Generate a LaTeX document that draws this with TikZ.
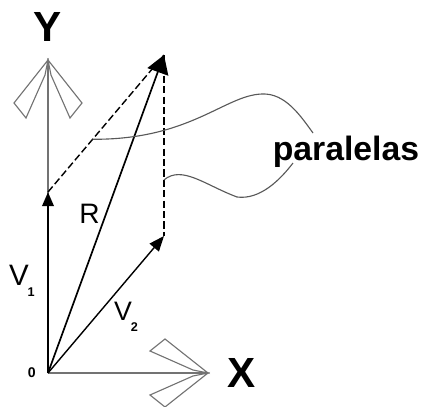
\documentclass[tikz,border=0pt]{standalone}
\usepackage{fontspec}
\setsansfont{Liberation Sans}
\usetikzlibrary{arrows.meta,positioning,calc}
\definecolor{axisgray}{gray}{0.45}
\definecolor{curvegray}{gray}{0.35}
\newcommand{\vsub}[3][0.3mm]{#2\kern-#1\raisebox{-2.6mm}{\fontsize{9}{9}\selectfont\bfseries #3}}

\tikzset{
  wing/.pic={
    \draw[wingline] (0,0) -- (-34,43) -- (-22,58) -- (-3,15) -- cycle;
    \draw[wingline] (0,0) -- (34,43) -- (22,58) -- (3,15) -- cycle;
  }
}

\begin{document}
\begin{tikzpicture}[
  x=0.25mm, y=-0.25mm,
  axis/.style={draw=axisgray, line width=1.2pt},
  wingline/.style={draw=axisgray, line width=0.8pt},
  vone/.style={line width=1.9pt, -{Triangle[length=3.5mm, width=2.8mm]}},
  vtwo/.style={line width=1pt, -{Triangle[length=3.8mm, width=3mm]}},
  rvec/.style={line width=1.2pt, -{Triangle[length=4.5mm, width=5.5mm]}},
  parallel/.style={line width=1pt, dash pattern=on 1.8mm off 0.8mm},
  pointer/.style={draw=curvegray, line width=0.8pt},
  axislabel/.style={font=\sffamily\bfseries\fontsize{30}{30}\selectfont, inner sep=0pt},
  veclabel/.style={font=\sffamily, inner sep=0pt},
]
  \useasboundingbox (0,0) rectangle (424,407);

  % points
  \coordinate (o) at (48,373);
  \coordinate (ytip) at (48,60);
  \coordinate (xtip) at (208,373);
  \coordinate (v1tip) at (48,192);
  \coordinate (v2tip) at (164,236);
  \coordinate (rtip) at (164,55);

  % axes
  \draw[axis] (o) -- (ytip);
  \draw[axis] (o) -- (xtip);
  \pic at (ytip) {wing};
  \pic[rotate=-90] at (xtip) {wing};

  \node[axislabel, above=4.5mm of ytip] (ylab) {Y};
  \node[axislabel, right=4.7mm of xtip] (xlab) {X};
  \node[veclabel, font=\sffamily\bfseries\fontsize{10}{10}\selectfont, left=3mm of o] (olab) {0};

  % vectors
  \draw[vone] (o) -- (v1tip);
  \draw[vtwo] (o) -- (v2tip);
  \draw[rvec] (o) -- node[veclabel, font=\sffamily\fontsize{20}{20}\selectfont, pos=0.5, left=1.4mm] (rlab) {R} (rtip);

  \node[veclabel, font=\sffamily\fontsize{21}{21}\selectfont] (v1lab) at (22,281) {\vsub{V}{1}};
  \node[veclabel, font=\sffamily\fontsize{19}{19}\selectfont] (v2lab) at (126,317) {\vsub{V}{2}};

  % parallels
  \draw[parallel] (v1tip) -- (rtip);
  \draw[parallel] (rtip) -- (v2tip);

  \node[veclabel, font=\sffamily\bfseries\fontsize{24}{24}\selectfont] (par) at (346,152) {paralelas};

  \coordinate (p1) at ($(v1tip)!0.385!(rtip)$);
  \coordinate (p2) at ($(rtip)!0.69!(v2tip)$);
  \coordinate (c1) at (313,133);
  \coordinate (c2) at (293,163);
  \draw[pointer] (p1) .. controls (190,140) and (225,95) .. (262,94)
    .. controls (285,93) and (300,115) .. (c1);
  \draw[pointer] (p2) .. controls (182,165) and (205,185) .. (237,197)
    .. controls (260,200) and (280,180) .. (c2);
\end{tikzpicture}
\end{document}
